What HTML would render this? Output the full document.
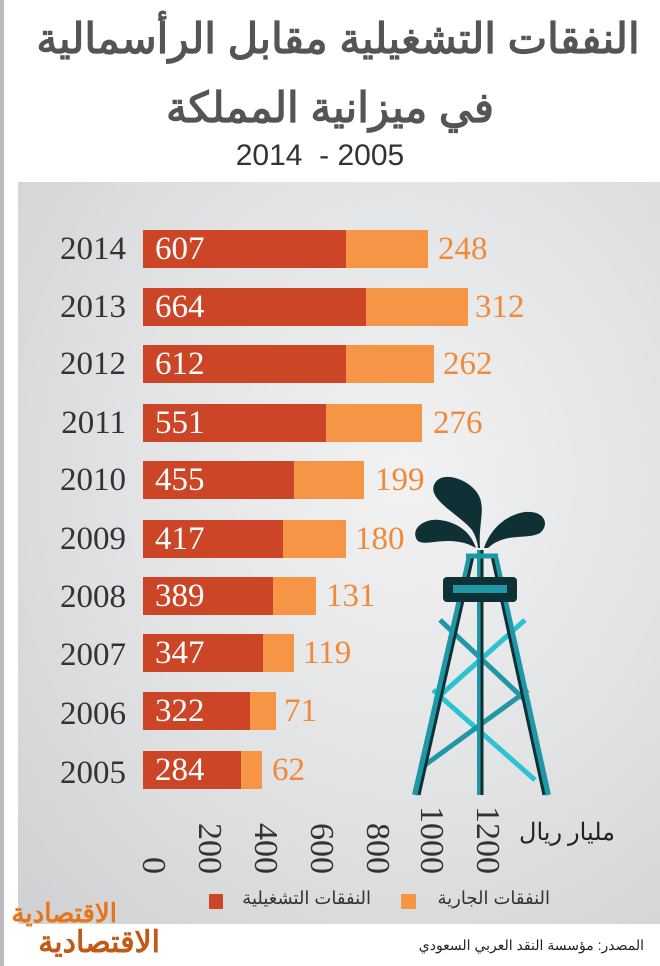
<!DOCTYPE html>
<html><head><meta charset="utf-8">
<style>
body{margin:0;width:660px;height:966px;background:#fff;position:relative;overflow:hidden;font-family:"Liberation Sans","Noto Sans CJK SC",sans-serif}
.a{position:absolute}
.yr{position:absolute;left:30px;width:96px;font-family:"Liberation Serif",serif;font-size:33px;color:#333;text-align:right;line-height:40px}
.r{position:absolute;left:143px;height:38px;background:#cc4527}
.o{position:absolute;height:38px;background:#f79546}
.v1{position:absolute;left:155px;font-family:"Liberation Serif",serif;font-size:33px;color:#fff;line-height:38px}
.v2{position:absolute;font-family:"Liberation Serif",serif;font-size:33px;color:#f08a3a;line-height:38px}
.t{position:absolute;font-family:"Liberation Serif",serif;font-size:34px;color:#333;transform:rotate(90deg);transform-origin:0 0;white-space:nowrap;line-height:34px}
.ti{position:absolute;left:0;width:660px;text-align:center;font-size:42px;font-weight:bold;color:#555;direction:rtl;white-space:nowrap;line-height:60px}
</style></head><body>
<div class="a" style="left:0;top:0;width:4px;height:966px;background:#bbb"></div>
<div class="a" style="left:18px;top:182px;width:642px;height:742px;background:radial-gradient(ellipse at 60% 40%,#f2f2f3 0%,#e2e3e4 50%,#cfd0d2 100%)"></div>
<div class="ti" style="top:9px;left:8px">النفقات التشغيلية مقابل الرأسمالية</div>
<div class="ti" style="top:78px;left:0px">في ميزانية المملكة</div>
<div class="a" style="left:170px;top:138px;width:300px;text-align:center;font-size:30px;color:#333;line-height:36px">2014 &nbsp;- 2005</div>

<div class="yr" style="top:229px">2014</div><div class="r" style="top:230px;width:203px"></div><div class="o" style="top:230px;left:346px;width:82px"></div><div class="v1" style="top:230px">607</div><div class="v2" style="top:230px;left:438px">248</div>
<div class="yr" style="top:287px">2013</div><div class="r" style="top:288px;width:223px"></div><div class="o" style="top:288px;left:366px;width:102px"></div><div class="v1" style="top:288px">664</div><div class="v2" style="top:288px;left:475px">312</div>
<div class="yr" style="top:344px">2012</div><div class="r" style="top:345px;width:203px"></div><div class="o" style="top:345px;left:346px;width:88px"></div><div class="v1" style="top:345px">612</div><div class="v2" style="top:345px;left:443px">262</div>
<div class="yr" style="top:403px">2011</div><div class="r" style="top:404px;width:183px"></div><div class="o" style="top:404px;left:326px;width:96px"></div><div class="v1" style="top:404px">551</div><div class="v2" style="top:404px;left:433px">276</div>
<div class="yr" style="top:460px">2010</div><div class="r" style="top:461px;width:151px"></div><div class="o" style="top:461px;left:294px;width:70px"></div><div class="v1" style="top:461px">455</div><div class="v2" style="top:461px;left:375px">199</div>
<div class="yr" style="top:519px">2009</div><div class="r" style="top:520px;width:140px"></div><div class="o" style="top:520px;left:283px;width:63px"></div><div class="v1" style="top:520px">417</div><div class="v2" style="top:520px;left:355px">180</div>
<div class="yr" style="top:577px">2008</div><div class="r" style="top:577px;width:130px"></div><div class="o" style="top:577px;left:273px;width:43px"></div><div class="v1" style="top:577px">389</div><div class="v2" style="top:577px;left:326px">131</div>
<div class="yr" style="top:635px">2007</div><div class="r" style="top:634px;width:120px"></div><div class="o" style="top:634px;left:263px;width:31px"></div><div class="v1" style="top:634px">347</div><div class="v2" style="top:634px;left:303px">119</div>
<div class="yr" style="top:694px">2006</div><div class="r" style="top:692px;width:107px"></div><div class="o" style="top:692px;left:250px;width:26px"></div><div class="v1" style="top:692px">322</div><div class="v2" style="top:692px;left:284px">71</div>
<div class="yr" style="top:753px">2005</div><div class="r" style="top:751px;width:98px"></div><div class="o" style="top:751px;left:241px;width:21px"></div><div class="v1" style="top:751px">284</div><div class="v2" style="top:751px;left:272px">62</div>

<svg class="a" style="left:0;top:0" width="660" height="966">
<g fill="#0f3035">
<path d="M480 548 C478 520 488 505 475 490 C465 478 440 470 434 485 C428 500 460 515 472 530 C478 540 478 548 478 548Z"/>
<path d="M476 548 C470 530 455 522 440 520 C425 518 410 528 417 540 C424 548 445 535 470 545Z"/>
<path d="M484 548 C490 530 505 515 525 512 C545 510 550 525 540 533 C528 540 505 532 488 548Z"/>
</g>
<g stroke-width="5" fill="none">
<line x1="440" y1="620" x2="525" y2="700" stroke="#1f97a5"/>
<line x1="525" y1="620" x2="435" y2="700" stroke="#2bc3cf"/>
<line x1="433" y1="690" x2="535" y2="780" stroke="#2bc3cf"/>
<line x1="528" y1="690" x2="425" y2="765" stroke="#1f97a5"/>
<line x1="470" y1="556" x2="415" y2="795" stroke="#1f97a5" stroke-width="6"/>
<line x1="495" y1="556" x2="548" y2="795" stroke="#1f97a5" stroke-width="6"/>
<line x1="473" y1="556" x2="419" y2="795" stroke="#0f3035" stroke-width="3"/>
<line x1="492" y1="556" x2="544" y2="795" stroke="#0f3035" stroke-width="3"/>
<line x1="480" y1="550" x2="480" y2="795" stroke="#1f97a5" stroke-width="6"/>
<line x1="482" y1="550" x2="482" y2="795" stroke="#0f3035" stroke-width="3"/>
<line x1="466" y1="556" x2="498" y2="556" stroke="#1f97a5" stroke-width="5"/>
</g>
<rect x="443" y="577" width="74" height="25" rx="4" fill="#0f3035"/>
<rect x="453" y="585" width="54" height="8" fill="#1f97a5"/>
</svg>

<div class="t" style="left:170px;top:857px">0</div>
<div class="t" style="left:226px;top:823px">200</div>
<div class="t" style="left:282px;top:823px">400</div>
<div class="t" style="left:338px;top:823px">600</div>
<div class="t" style="left:394px;top:823px">800</div>
<div class="t" style="left:448px;top:806px">1000</div>
<div class="t" style="left:504px;top:806px">1200</div>
<div class="a" style="left:505px;top:818px;font-family:'Liberation Serif','DejaVu Serif',serif;font-size:24px;color:#222;direction:rtl;width:110px;text-align:right">مليار ريال</div>

<div class="a" style="left:420px;top:888px;font-size:18px;color:#333;direction:rtl;white-space:nowrap;width:130px;text-align:right">النفقات الجارية</div>
<div class="a" style="left:401px;top:894px;width:15px;height:15px;background:#f79546"></div>
<div class="a" style="left:230px;top:888px;font-size:18px;color:#333;direction:rtl;white-space:nowrap;width:141px;text-align:right">النفقات التشغيلية</div>
<div class="a" style="left:209px;top:894px;width:14px;height:15px;background:#cc4527"></div>

<div class="a" style="left:0px;top:898px;font-size:26px;font-weight:bold;color:#e8741a;direction:rtl;width:117px;text-align:right;white-space:nowrap">الاقتصادية</div>
<div class="a" style="left:20px;top:925px;font-size:30px;font-weight:bold;color:#c05a14;direction:rtl;width:140px;text-align:right;white-space:nowrap">الاقتصادية</div>
<div class="a" style="left:380px;top:937px;font-size:14px;color:#222;direction:rtl;width:264px;text-align:right;white-space:nowrap">المصدر: مؤسسة النقد العربي السعودي</div>
</body></html>
